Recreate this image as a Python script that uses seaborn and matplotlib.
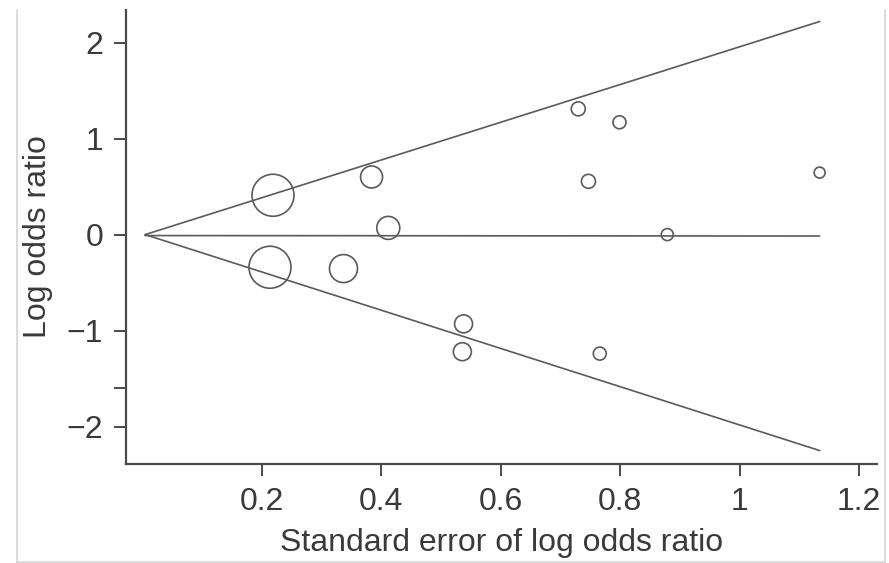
import matplotlib
matplotlib.use("Agg")
import matplotlib.pyplot as plt
from matplotlib.lines import Line2D
import seaborn as sns
import pandas as pd

# Study-level data
se = [0.219, 0.214, 0.384, 0.412, 0.337, 0.538, 0.536, 0.766, 0.730, 0.799, 0.747, 0.879, 1.134]
log_or = [0.41, -0.34, 0.60, 0.07, -0.354, -0.93, -1.22, -1.24, 1.31, 1.17, 0.555, 0.0, 0.646]
weight = [441, 441, 121, 132, 196, 81, 81, 42, 49, 42, 49, 36, 30]

# Funnel (pseudo 95% limits) and pooled-estimate line endpoints
line_se = [0.005, 1.134]
upper_lim = [0.0, 2.22]
lower_lim = [0.0, -2.25]
pooled = [-0.01, -0.015]

x_ticks = [0.2, 0.4, 0.6, 0.8, 1.0, 1.2]
x_ticklabels = ["0.2", "0.4", "0.6", "0.8", "1", "1.2"]
y_ticks = [-2, -1.6, -1, 0, 1, 2]
y_ticklabels = ["\u22122", "", "\u22121", "0", "1", "2"]

sns.set_style("white")
plt.rcParams["font.family"] = ["Liberation Sans", "DejaVu Sans"]

W, H = 889, 563
fig = plt.figure(figsize=(W / 100, H / 100), dpi=100)
ax = fig.add_axes([126 / W, 1 - 464 / H, (877 - 126) / W, (464 - 10) / H])

df = pd.DataFrame({"se": se, "lor": log_or, "w": weight})
lines = pd.DataFrame({"se": line_se, "up": upper_lim, "lo": lower_lim, "mid": pooled})

lc = "#5a5a5a"
for col in ["up", "lo", "mid"]:
    sns.lineplot(data=lines, x="se", y=col, ax=ax, color=lc, lw=1.2, zorder=2)

# marker size in points^2 proportional to weight (area)
px_to_pt = 72 / 100
smax = (2 * 21 * px_to_pt) ** 2
sns.scatterplot(data=df, x="se", y="lor", size="w", sizes=(0, smax),
                size_norm=(0, max(weight)), facecolor="none", edgecolor="#5a5a5a",
                linewidth=1.2, legend=False, ax=ax, zorder=3)

ax.set_xlim(-0.027, 1.23)
ax.set_ylim(-2.39, 2.34)
ax.set_xticks(x_ticks)
ax.set_xticklabels(x_ticklabels)
ax.set_yticks(y_ticks)
ax.set_yticklabels(y_ticklabels)

for s in ["top", "right"]:
    ax.spines[s].set_visible(False)
for s in ["left", "bottom"]:
    ax.spines[s].set_color("#4a4a4a")
    ax.spines[s].set_linewidth(1.6)

tc = "#3a3a3a"
ax.tick_params(axis="both", direction="out", length=8.5, width=1.4, color="#4a4a4a",
               labelsize=23, labelcolor=tc, pad=8, left=True, bottom=True)
ax.set_xlabel("Standard error of log odds ratio", fontsize=23, color=tc, labelpad=8)
ax.set_ylabel("Log odds ratio", fontsize=23, color=tc, labelpad=10)

# light frame around the figure
bc = "#dcdcdc"
fig.add_artist(Line2D([16.5 / W, 16.5 / W], [0.5 / H, 1 - 10 / H], color=bc, lw=1.5))
fig.add_artist(Line2D([885 / W, 885 / W], [0.5 / H, 1 - 10 / H], color=bc, lw=1.5))
fig.add_artist(Line2D([16.5 / W, 885 / W], [1.2 / H, 1.2 / H], color=bc, lw=1.5))

fig.savefig("out.png", dpi=100, facecolor="white")
